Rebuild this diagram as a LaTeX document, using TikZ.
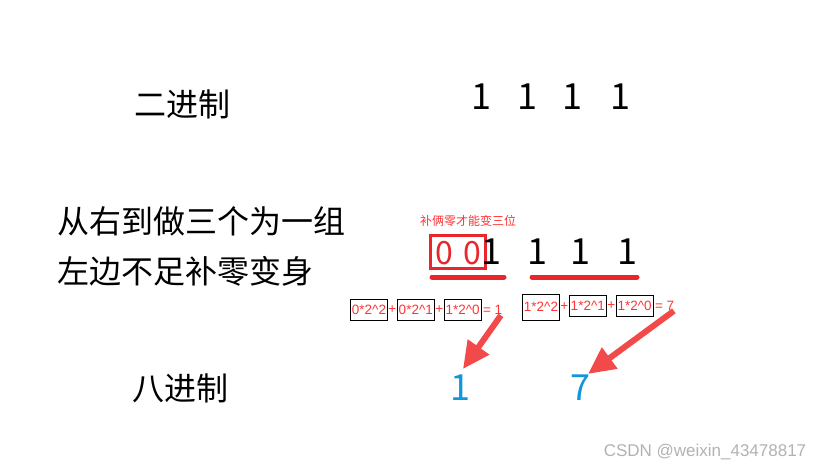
\documentclass[tikz,border=0pt]{standalone}
\usepackage{fontspec}
\setmainfont{Liberation Sans}
\newfontfamily\cjk{Noto Sans CJK SC}
\usetikzlibrary{positioning,arrows.meta}
\definecolor{tipred}{HTML}{FF3333}
\definecolor{markred}{HTML}{E8262C}
\definecolor{arrowred}{HTML}{F24A4A}
\definecolor{octblue}{HTML}{1296DB}

\begin{document}
\begin{tikzpicture}[
  x=1pt, y=-1pt,
  title/.style = {font=\cjk\fontsize{32}{32}\selectfont, inner sep=0},
  digit/.style = {font=\cjk\fontsize{36}{36}\selectfont, inner sep=0},
  term/.style = {draw, thin, text=tipred, font=\fontsize{13.5}{13.5}\selectfont,
    inner xsep=1.5pt, inner ysep=2pt, minimum height=21pt},
  plus/.style = {text=tipred, font=\fontsize{13.5}{13.5}\selectfont, inner sep=0.5pt},
  underbar/.style = {draw=markred, line width=5pt, line cap=round},
  bigarrow/.style = {draw=arrowred, line width=6pt,
    -{Triangle[length=27pt,width=25pt]}}
  ]
  \useasboundingbox (0,0) rectangle (837,471);
  % binary row
  \node[title] (bin) at (182,104) {二进制};
  \foreach \i/\x in {1/481,2/527,3/572,4/620}
    \node[digit] (b\i) at (\x,97) {1};
  % grouping rule
  \node[title, anchor=west] (rule1) at (57,221) {从右到做三个为一组};
  \node[title, anchor=west] (rule2) at (57,271) {左边不足补零变身};
  \node[text=tipred, inner sep=0, font=\cjk\fontsize{12}{12}\selectfont] (hint) at (468,221) {补俩零才能变三位};
  \node[draw=markred, line width=3pt, minimum width=55pt, minimum height=33pt] (pad) at (458,252) {};
  \node[digit, text=markred, font=\cjk\fontsize{32}{32}\selectfont] (z1) at (444,253) {0};
  \node[digit, text=markred, font=\cjk\fontsize{32}{32}\selectfont] (z2) at (472,253) {0};
  \foreach \i/\x in {1/491,2/537,3/580,4/627}
    \node[digit] (g\i) at (\x,252) {1};
  \draw[underbar] (432,277) -- (504,277);
  \draw[underbar] (532,277) -- (637,277);
  % left group
  \node[term] (lt1) at (369,310) {0*2\textasciicircum2};
  \node[plus, right=0pt of lt1] (lp1) {+};
  \node[term, right=0pt of lp1] (lt2) {0*2\textasciicircum1};
  \node[plus, right=0pt of lt2] (lp2) {+};
  \node[term, right=0pt of lp2] (lt3) {1*2\textasciicircum0};
  \node[plus, right=1pt of lt3] (leq) {= 1};
  % right group
  \node[term, minimum height=26pt] (rt1) at (541,307) {1*2\textasciicircum2};
  \node[plus, right=0pt of rt1] (rp1) {+};
  \node[term, right=0pt of rp1, yshift=1.5pt] (rt2) {1*2\textasciicircum1};
  \node[plus, right=0pt of rt2] (rp2) {+};
  \node[term, right=0pt of rp2] (rt3) {1*2\textasciicircum0};
  \node[plus, right=1pt of rt3] (req) {= 7};
  % octal row
  \node[title] (oct) at (180,388) {八进制};
  \node[digit, text=octblue] (o1) at (460,388) {1};
  \node[digit, text=octblue] (o7) at (580,388) {7};
  \draw[bigarrow] ([xshift=-2pt]leq.south east) -- ([xshift=3pt,yshift=6pt]o1.north);
  \draw[bigarrow] ([xshift=-1pt]req.south east) -- ([xshift=8pt,yshift=1pt]o7.north);
  \node[text=gray!60, font=\fontsize{17}{17}\selectfont] (wm) at (705,452) {CSDN @weixin\_43478817};
\end{tikzpicture}
\end{document}
